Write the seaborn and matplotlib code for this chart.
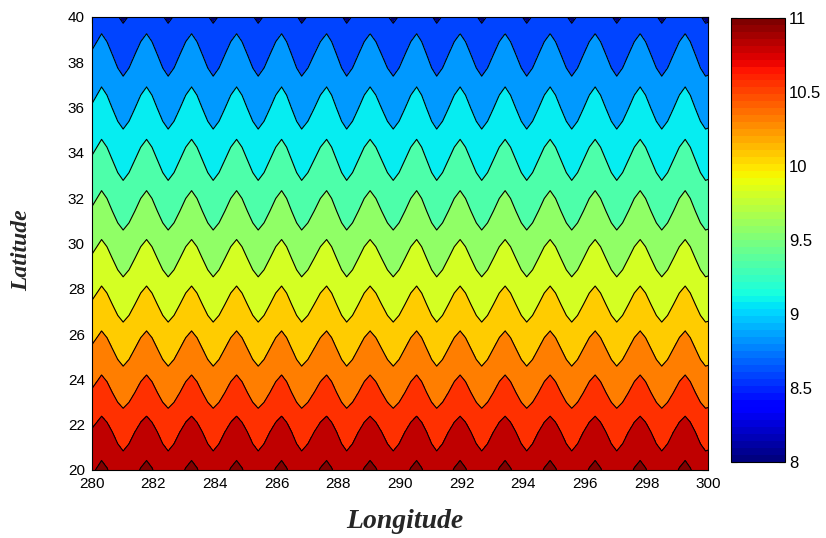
import numpy as np
import matplotlib
matplotlib.use("Agg")
import matplotlib.pyplot as plt
import seaborn as sns
from matplotlib.colors import Normalize
from matplotlib.cm import ScalarMappable
from matplotlib.ticker import FormatStrFormatter

# ---- data ----
# mean field value along latitude (contour centres)
lat_nodes = [20.0, 21.68, 23.42, 25.36, 27.31, 29.34, 31.43, 33.69, 35.96, 38.34, 40.0]
lat_base = [10.90, 10.70, 10.45, 10.20, 9.95, 9.70, 9.45, 9.20, 8.95, 8.70, 8.52]

# longitudes of wave crests (contours bulge north) and troughs
peak_lon = [280.32, 281.78, 283.24, 284.70, 286.16, 287.62, 289.03,
            290.54, 291.95, 293.41, 294.87, 296.33, 297.79, 299.25]
trough_lon = [281.02, 282.48, 283.94, 285.40, 286.81, 288.27, 289.78,
              291.19, 292.65, 294.11, 295.57, 297.03, 298.49, 299.91]
edge_lon = [280.0, 300.0]
edge_wave = [0.2, -0.95]
# shape of one half-wave (crest -> trough), sampled at fractions of the half-wave
half_wave_frac = [0.0, 0.25, 0.5, 0.75]
half_wave_val = [1.0, 0.62, 0.0, -0.62]
wave_amp = 0.10

levels = [8.45, 8.70, 8.95, 9.20, 9.45, 9.70, 9.95, 10.20, 10.45, 10.70, 10.95]
cbar_ticks = [8, 8.5, 9, 9.5, 10, 10.5, 11]
x_ticks = [280, 282, 284, 286, 288, 290, 292, 294, 296, 298, 300]
y_ticks = [20, 22, 24, 26, 28, 30, 32, 34, 36, 38, 40]

# ---- build the grid ----
extrema = sorted([(lo, 1.0) for lo in peak_lon] + [(lo, -1.0) for lo in trough_lon])
nodes = list(zip(edge_lon, edge_wave))
for (l0, s0), (l1, s1) in zip(extrema[:-1], extrema[1:]):
    for f, v in zip(half_wave_frac, half_wave_val):
        nodes.append((l0 + f * (l1 - l0), s0 * v))
nodes.append(extrema[-1])
nodes.sort()
lon_grid = np.array([n[0] for n in nodes])
wave = np.array([n[1] for n in nodes])
lat_grid = np.array(lat_nodes)
Z = np.add.outer(np.array(lat_base), wave_amp * wave)
X, Y = np.meshgrid(lon_grid, lat_grid)

# ---- style ----
sns.set_style("white")
plt.rcParams["font.family"] = ["Liberation Sans", "DejaVu Sans"]

cmap = plt.get_cmap("jet", 64)
norm = Normalize(vmin=8, vmax=11)

fig = plt.figure(figsize=(8.26, 5.38), dpi=100)
ax = fig.add_axes([91.7 / 826, 1 - 470 / 538, 616.6 / 826, 453 / 538])

ax.contourf(X, Y, Z, levels=levels, cmap=plt.get_cmap("jet"), norm=norm, extend="both")
ax.contour(X, Y, Z, levels=levels, colors="black", linewidths=0.8)

ax.set_xlim(280, 300)
ax.set_ylim(20, 40)
ax.set_xticks(x_ticks)
ax.set_yticks(y_ticks)
ax.tick_params(direction="in", length=4, width=0.8, top=True, right=True,
               labelsize=11, colors="black", pad=5)
for s in ax.spines.values():
    s.set_visible(True)
    s.set_color("black")
    s.set_linewidth(0.8)

fig.text(405 / 826, 1 - 522 / 538, "Longitude", ha="center", va="center",
         fontsize=20, fontweight="bold", fontstyle="italic", family="Liberation Serif")
fig.text(22 / 826, 1 - 250 / 538, "Latitude", ha="center", va="center", rotation=90,
         fontsize=17, fontweight="bold", fontstyle="italic", family="Liberation Serif")

cax = fig.add_axes([731 / 826, 1 - 462 / 538, 54 / 826, 444 / 538])
sm = ScalarMappable(norm=norm, cmap=cmap)
cb = fig.colorbar(sm, cax=cax, ticks=cbar_ticks)
cb.ax.yaxis.set_major_formatter(FormatStrFormatter("%g"))
cb.ax.tick_params(direction="in", length=4, width=0.8, left=True, right=True,
                  labelsize=12, colors="black", pad=3)
cb.outline.set_edgecolor("black")
cb.outline.set_linewidth(0.8)

fig.savefig("out.png", dpi=100)
